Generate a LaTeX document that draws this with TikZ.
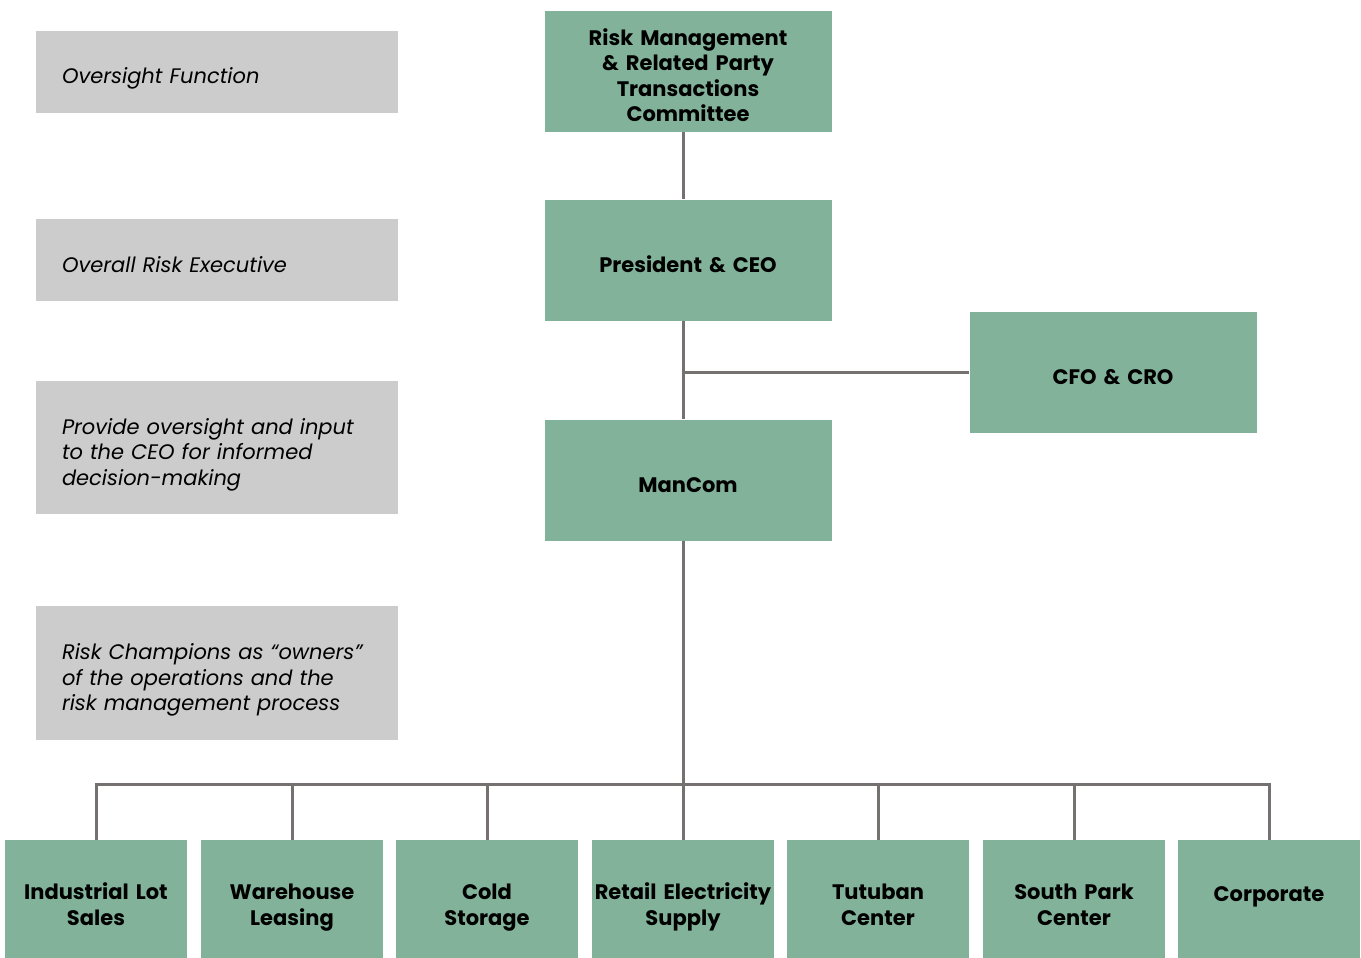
\documentclass[tikz,border=0pt]{standalone}
\usepackage{fontspec}
\setmainfont{Poppins}
\usepackage{tikz}
\usetikzlibrary{positioning}
\definecolor{boxgreen}{HTML}{82B39A}
\definecolor{boxgray}{HTML}{CCCCCC}
\definecolor{linegray}{HTML}{767171}
\newcommand{\topstrut}{\rule{0pt}{32pt}}
\newcommand{\botstrut}{\rule[-8pt]{0pt}{0pt}}
\tikzstyle{gnode} = [fill=boxgreen, inner sep=0pt, text width=280pt, minimum width=287pt, minimum height=121pt, align=center, font=\fontsize{21}{25.5}\selectfont\bfseries, execute at begin node=\topstrut, execute at end node=\botstrut]
\tikzstyle{unode} = [gnode, text width=180pt, minimum width=182pt]
\tikzstyle{lnode} = [fill=boxgray, inner xsep=26pt, inner ysep=0pt, text width=310pt, minimum height=82pt, align=left, font=\fontsize{21}{25.5}\selectfont\itshape, execute at begin node=\topstrut, execute at end node=\botstrut]
\tikzstyle{line} = [draw, linegray, line width=3pt]

\begin{document}
\begin{tikzpicture}[x=1pt, y=-1pt]
			\useasboundingbox (0, 0) rectangle (1361, 958);
			% left column
			\node [lnode] (l1) at (217, 72) {Oversight Function};
			\node [lnode] (l2) at (217, 260) {Overall Risk Executive};
			\node [lnode, minimum height=133pt] (l3) at (217, 447.5) {Provide oversight and input\\to the CEO for informed\\decision-making};
			\node [lnode, minimum height=134pt, execute at begin node={\rule{0pt}{26pt}}] (l4) at (217, 673) {Risk Champions as “owners”\\of the operations and the\\risk management process};
			
			% hierarchy
			\node [gnode] (rmc) at (688, 71.5) {Risk Management\\\& Related Party\\Transactions\\Committee};
			\node [gnode] (ceo) at (688, 260) {President \& CEO};
			\node [gnode] (cfo) at (1113, 372.5) {CFO \& CRO};
			\node [gnode] (mancom) at (688, 480) {ManCom};
			
			\node [unode] (ind) at (96, 900.5) {Industrial Lot\\Sales};
			\node [unode] (wh) at (292, 900.5) {Warehouse\\Leasing};
			\node [unode] (cold) at (487, 900.5) {Cold\\Storage};
			\node [unode] (res) at (683, 900.5) {Retail Electricity\\Supply};
			\node [unode] (tut) at (878, 900.5) {Tutuban\\Center};
			\node [unode] (spc) at (1074, 900.5) {South Park\\Center};
			\node [unode, execute at end node={\rule[-31pt]{0pt}{0pt}}] (corp) at (1269, 900.5) {Corporate};
			
			\coordinate (bus) at (683, 784);
			
			\path [line] (rmc.south -| bus) -- (ceo.north -| bus);
			\path [line] (ceo.south -| bus) -- (mancom.north -| bus);
			\path [line] (cfo.west) -- (cfo.west -| bus);
			\path [line] (mancom.south -| bus) -- (bus);
			\path [line] (ind.north) |- (bus);
			\path [line] (wh.north) |- (bus);
			\path [line] (cold.north) |- (bus);
			\path [line] (res.north) -- (bus);
			\path [line] (tut.north) |- (bus);
			\path [line] (spc.north) |- (bus);
			\path [line] (corp.north) |- (bus);
		\end{tikzpicture}
\end{document}
